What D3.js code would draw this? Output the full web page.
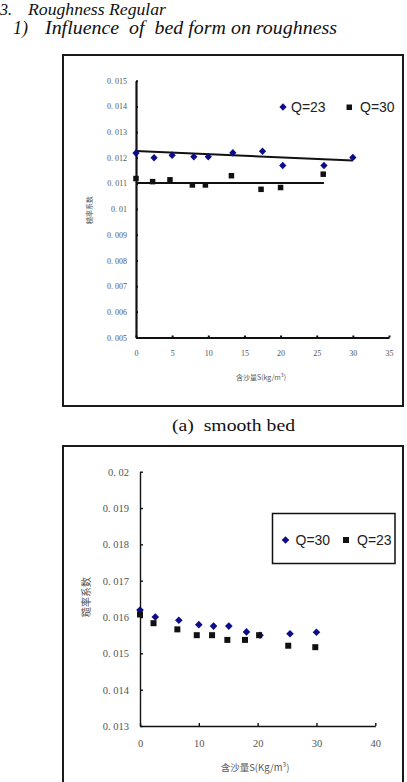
<!DOCTYPE html>
<html><head><meta charset="utf-8">
<script src="https://cdn.jsdelivr.net/npm/d3@7"></script>
<style>body{margin:0;background:#fff}svg{display:block}</style>
</head><body>
<script>
// ---- Data: chart (a) smooth bed ----
const a_xTicks = [0,5,10,15,20,25,30,35];
const a_yTicks = [0.005,0.006,0.007,0.008,0.009,0.010,0.011,0.012,0.013,0.014,0.015];
const a_q23_S = [0,2.5,5,8,10,13.4,17.5,20.3,26,30];
const a_q23_n = [0.01218,0.01200,0.01210,0.01204,0.01204,0.01219,0.01225,0.01170,0.01170,0.01201];
const a_q30_S = [0,2.3,4.7,7.8,9.6,13.2,17.3,20.0,25.9];
const a_q30_n = [0.01119,0.01107,0.01114,0.01094,0.01094,0.01130,0.01077,0.01084,0.01136];
const a_trend23 = [[0,0.01226],[30,0.01189]];
const a_trend30 = [[0,0.01102],[26,0.01102]];
const a_legend = ["Q=23","Q=30"];

// ---- Data: chart (b) ----
const b_xTicks = [0,10,20,30,40];
const b_yTicks = [0.013,0.014,0.015,0.016,0.017,0.018,0.019,0.02];
const b_q30_S = [0,2.6,6.6,10,12.5,15.1,18.1,20.4,25.5,30];
const b_q30_n = [0.01619,0.01600,0.01591,0.01579,0.01575,0.01575,0.01559,0.01550,0.01554,0.01558];
const b_q23_S = [0,2.3,6.35,9.65,12.25,14.85,17.85,20.25,25.2,29.8];
const b_q23_n = [0.01607,0.01583,0.01566,0.01550,0.01550,0.01537,0.01537,0.01550,0.01521,0.01517];
const b_legend = ["Q=30","Q=23"];

const W = 407, H = 782;
const svg = d3.select("body").append("svg").attr("width", W).attr("height", H);
const NAVY = "#0d0d8a";
const serif = "'Liberation Serif','Times New Roman',serif";
const cjk = "'Noto Sans CJK SC',sans-serif";

// Headings
svg.append("text").attr("x",0).attr("y",15).attr("font-family",serif).attr("font-style","italic")
  .attr("font-size",16).attr("fill","#111").text("3.");
svg.append("text").attr("x",28).attr("y",15).attr("font-family",serif).attr("font-style","italic")
  .attr("font-size",16).attr("fill","#111").attr("textLength",138).attr("lengthAdjust","spacingAndGlyphs").text("Roughness Regular");
svg.append("text").attr("x",13).attr("y",34).attr("font-family",serif).attr("font-style","italic")
  .attr("font-size",18).attr("fill","#111").text("1)");
svg.append("text").attr("x",45).attr("y",34).attr("font-family",serif).attr("font-style","italic")
  .attr("font-size",18).attr("fill","#111").attr("textLength",292).attr("lengthAdjust","spacingAndGlyphs")
  .style("white-space","pre").text("Influence  of  bed form on roughness");

// Frames
svg.append("rect").attr("x",63).attr("y",55).attr("width",340).attr("height",351)
  .attr("fill","none").attr("stroke","#1a1a1a").attr("stroke-width",2);
svg.append("rect").attr("x",63).attr("y",446).attr("width",340).attr("height",360)
  .attr("fill","none").attr("stroke","#1a1a1a").attr("stroke-width",2);

// Caption
svg.append("text").attr("x",172).attr("y",431).attr("font-family",serif).attr("font-size",17)
  .attr("fill","#111").attr("textLength",123).attr("lengthAdjust","spacingAndGlyphs")
  .style("white-space","pre").text("(a)  smooth bed");

const fmtY = d => d3.format(".3~f")(d).replace(".", ". ");

function diamond(g, xs, ys, sx, sy, hw, hh, color){
  g.selectAll(null).data(xs.map((x,i)=>[x,ys[i]])).enter().append("path")
    .attr("transform", d=>`translate(${sx(d[0])},${sy(d[1])})`)
    .attr("d", `M0,${-hh}L${hw},0L0,${hh}L${-hw},0Z`).attr("fill", color);
}
function squares(g, xs, ys, sx, sy, s, color){
  g.selectAll(null).data(xs.map((x,i)=>[x,ys[i]])).enter().append("rect")
    .attr("x", d=>sx(d[0])-s/2).attr("y", d=>sy(d[1])-s/2)
    .attr("width", s).attr("height", s).attr("fill", color);
}

// ---------- Chart (a) ----------
{
  const x = d3.scaleLinear().domain([0,35]).range([136,389]);
  const y = d3.scaleLinear().domain([0.005,0.015]).range([337.5,80.7]);
  const g = svg.append("g");
  const ya = g.append("g").attr("transform","translate(136,0)")
    .call(d3.axisLeft(y).tickValues(a_yTicks).tickFormat(fmtY).tickSize(-2).tickSizeOuter(0).tickPadding(9));
  const xa = g.append("g").attr("transform","translate(0,337.5)")
    .call(d3.axisBottom(x).tickValues(a_xTicks).tickFormat(d3.format("d")).tickSize(-2).tickSizeOuter(0).tickPadding(13));
  [ya,xa].forEach(a=>{
    a.select(".domain").attr("stroke","#111").attr("stroke-width",2.2);
    a.selectAll(".tick line").attr("stroke","#111").attr("stroke-width",2);
    a.selectAll(".tick text").attr("font-family",serif).attr("font-size",8).attr("fill","#555");
  });
  g.append("text").attr("x",261).attr("y",380).attr("text-anchor","middle").attr("font-family",cjk)
    .attr("font-size",7).attr("fill","#555").html("含沙量S(kg/m<tspan dy='-3' font-size='5'>3</tspan><tspan dy='3'>)</tspan>");
  g.append("text").attr("transform","translate(92,210) rotate(-90)").attr("text-anchor","middle")
    .attr("font-family",cjk).attr("font-size",7).attr("fill","#555").text("糙率系数");
  const line = d3.line().x(d=>x(d[0])).y(d=>y(d[1]));
  g.append("path").attr("d",line(a_trend23)).attr("stroke","#111").attr("stroke-width",2).attr("fill","none");
  g.append("path").attr("d",line(a_trend30)).attr("stroke","#111").attr("stroke-width",2).attr("fill","none");
  diamond(g, a_q23_S, a_q23_n, x, y, 3.6, 3.8, NAVY);
  squares(g, a_q30_S, a_q30_n, x, y, 5.5, "#111");
  // legend
  const lg = g.append("g");
  lg.append("path").attr("transform","translate(283,107)").attr("d","M0,-3.8L3.6,0L0,3.8L-3.6,0Z").attr("fill",NAVY);
  lg.append("text").attr("x",291).attr("y",112).attr("font-family","'Liberation Sans',sans-serif").attr("font-size",14).attr("fill","#222").text(a_legend[0]);
  lg.append("rect").attr("x",346.5).attr("y",104.5).attr("width",5.5).attr("height",5.5).attr("fill","#111");
  lg.append("text").attr("x",360).attr("y",112).attr("font-family","'Liberation Sans',sans-serif").attr("font-size",14).attr("fill","#222").text(a_legend[1]);
}

// ---------- Chart (b) ----------
{
  const x = d3.scaleLinear().domain([0,40]).range([140,375.3]);
  const y = d3.scaleLinear().domain([0.013,0.02]).range([726,471.7]);
  const g = svg.append("g");
  const ya = g.append("g").attr("transform","translate(140,0)")
    .call(d3.axisLeft(y).tickValues(b_yTicks).tickFormat(fmtY).tickSize(-3).tickSizeOuter(0).tickPadding(11));
  const xa = g.append("g").attr("transform","translate(0,726)")
    .call(d3.axisBottom(x).tickValues(b_xTicks).tickFormat(d3.format("d")).tickSize(-3).tickSizeOuter(0).tickPadding(14));
  [ya,xa].forEach(a=>{
    a.select(".domain").attr("stroke","#111").attr("stroke-width",1.4);
    a.selectAll(".tick line").attr("stroke","#111").attr("stroke-width",1.4);
    a.selectAll(".tick text").attr("font-family",serif).attr("font-size",10.5).attr("fill","#555");
  });
  g.append("text").attr("x",255).attr("y",770.5).attr("text-anchor","middle").attr("font-family",cjk)
    .attr("font-size",9.5).attr("fill","#555").html("含沙量S(Kg/m<tspan dy='-4' font-size='6.5'>3</tspan><tspan dy='4'>)</tspan>");
  g.append("text").attr("transform","translate(90,597) rotate(-90)").attr("text-anchor","middle")
    .attr("font-family",cjk).attr("font-size",10).attr("fill","#555").text("糙率系数");
  diamond(g, b_q30_S, b_q30_n, x, y, 3.8, 3.8, NAVY);
  squares(g, b_q23_S, b_q23_n, x, y, 6, "#111");
  const lg = g.append("g");
  lg.append("rect").attr("x",272.5).attr("y",513.5).attr("width",122.5).attr("height",50)
    .attr("fill","#fff").attr("stroke","#111").attr("stroke-width",1.5);
  lg.append("path").attr("transform","translate(285.5,540)").attr("d","M0,-3.8L3.8,0L0,3.8L-3.8,0Z").attr("fill",NAVY);
  lg.append("text").attr("x",295.5).attr("y",545).attr("font-family","'Liberation Sans',sans-serif").attr("font-size",14).attr("fill","#222").text(b_legend[0]);
  lg.append("rect").attr("x",343).attr("y",537).attr("width",6).attr("height",6).attr("fill","#111");
  lg.append("text").attr("x",357).attr("y",545).attr("font-family","'Liberation Sans',sans-serif").attr("font-size",14).attr("fill","#222").text(b_legend[1]);
}
</script>
</body></html>
